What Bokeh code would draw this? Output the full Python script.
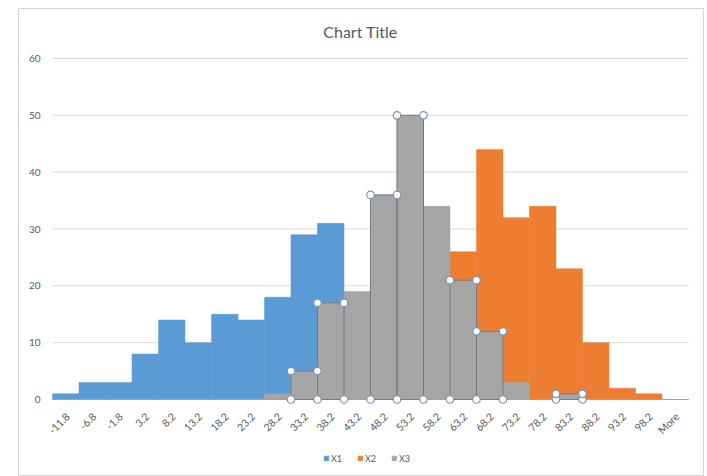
import math
from bokeh.plotting import figure
from bokeh.models import Range1d, Legend, LegendItem, Label
from bokeh.embed import file_html
from bokeh.resources import INLINE
from bokeh.core.properties import value

# Histogram bins (upper edges) and frequency counts per series
bins = ["-11.8", "-6.8", "-1.8", "3.2", "8.2", "13.2", "18.2", "23.2", "28.2",
        "33.2", "38.2", "43.2", "48.2", "53.2", "58.2", "63.2", "68.2", "73.2",
        "78.2", "83.2", "88.2", "93.2", "98.2", "More"]
x1 = [1, 3, 3, 8, 14, 10, 15, 14, 18, 29, 31, 9, 4, 1, 0, 0, 0, 0, 0, 0, 0, 0, 0, 0]
x2 = [0, 0, 0, 0, 0, 0, 0, 0, 0, 0, 0, 1, 2, 5, 14, 26, 44, 32, 34, 23, 10, 2, 1, 0]
x3 = [0, 0, 0, 0, 0, 0, 0, 0, 1, 5, 17, 19, 36, 50, 34, 21, 12, 3, 0, 1, 0, 0, 0, 0]
# X3 bins currently selected (outlined, with edit handles)
selected_bins = ["33.2", "38.2", "48.2", "53.2", "63.2", "68.2", "83.2"]
y_ticks = [0, 10, 20, 30, 40, 50, 60]

FONT = "Lato"
TEXT = "#595959"
GRID = "#D9D9D9"
BLUE, ORANGE, GRAY = "#5B9BD5", "#ED7D31", "#A5A5A5"

W, H = 707, 476
# chart area box (the frame) and the plot area inside it, in pixels
BOX_L, BOX_R, BOX_T, BOX_B = 18, 703, 8, 476
PA_L, PA_R, PA_T, PA_B = 52, 688, 58, 399
Y_MAX = y_ticks[-1]

n = len(bins)
idx = list(range(n))
px_per_bin = (PA_R - PA_L) / n
px_per_unit = (PA_B - PA_T) / Y_MAX

x_range = Range1d(-0.5 - (PA_L - BOX_L) / px_per_bin,
                  n - 0.5 + (BOX_R - PA_R) / px_per_bin)
y_range = Range1d(-(BOX_B - PA_B) / px_per_unit,
                  Y_MAX + (PA_T - BOX_T) / px_per_unit)

p = figure(width=W, height=H, x_range=x_range, y_range=y_range,
           x_axis_type=None, y_axis_type=None, output_backend="svg",
           toolbar_location=None, min_border_left=BOX_L,
           min_border_right=W - BOX_R, min_border_top=BOX_T,
           min_border_bottom=H - BOX_B)
p.outline_line_color = "#D4D4D4"
p.background_fill_color = "white"
p.border_fill_color = "white"
p.xgrid.visible = False
p.ygrid.visible = False

# horizontal gridlines (the 0 line doubles as the category axis line)
p.segment(x0=[-0.5] * len(y_ticks), x1=[n - 0.5] * len(y_ticks),
          y0=y_ticks, y1=y_ticks, line_color=GRID, line_width=1)

# overlapping bars, series drawn in order so X3 sits on top
r1 = p.vbar(x=idx, top=x1, width=1.0, fill_color=BLUE, line_color=BLUE,
            line_width=0.5)
r2 = p.vbar(x=idx, top=x2, width=1.0, fill_color=ORANGE, line_color=ORANGE,
            line_width=0.5)
r3 = p.vbar(x=idx, top=x3, width=1.0, fill_color=GRAY, line_color=GRAY,
            line_width=0.5)

# selected X3 bars: outline and corner handles
sel_x = [bins.index(b) for b in selected_bins]
sel_top = [x3[i] for i in sel_x]
p.vbar(x=sel_x, top=sel_top, width=1.0, fill_color=None,
       line_color="#737c86", line_width=1)
hx, hy = [], []
for i, t in zip(sel_x, sel_top):
    for cx in (i - 0.5, i + 0.5):
        for cy in (0, t):
            if (cx, cy) not in zip(hx, hy):
                hx.append(cx)
                hy.append(cy)
p.scatter(x=hx, y=hy, size=7.5, marker="circle", fill_color="white",
          line_color="#7896b4", line_width=1.2)

# value axis labels
p.text(x=[-0.5] * len(y_ticks), y=y_ticks, text=[str(t) for t in y_ticks],
       x_offset=-12, text_align="right", text_baseline="middle",
       text_font=value(FONT), text_font_size="10px", text_color=TEXT)

# category axis labels, slanted
p.text(x=idx, y=[0] * n, text=bins, angle=math.pi / 4, x_offset=2,
       y_offset=15, text_align="right", text_baseline="middle",
       text_font=value(FONT), text_font_size="10.5px", text_color=TEXT)

# chart title
p.add_layout(Label(x=(PA_L + PA_R) / 2 - 10 - BOX_L, y=BOX_B - 31,
                   x_units="screen", y_units="screen", text="Chart Title",
                   text_align="center", text_baseline="middle",
                   text_font=FONT, text_font_size="16px", text_color=TEXT))

# legend under the category labels
legend = Legend(items=[LegendItem(label="X1", renderers=[r1]),
                       LegendItem(label="X2", renderers=[r2]),
                       LegendItem(label="X3", renderers=[r3])],
                location=(305, 12), orientation="horizontal",
                glyph_width=6, glyph_height=6, label_standoff=2, spacing=6,
                padding=0, margin=0, label_height=12,
                label_text_font=FONT, label_text_font_size="9px",
                label_text_color=TEXT, border_line_color=None,
                background_fill_alpha=0)
p.add_layout(legend)

open("out.html", "w").write(file_html(p, INLINE))
